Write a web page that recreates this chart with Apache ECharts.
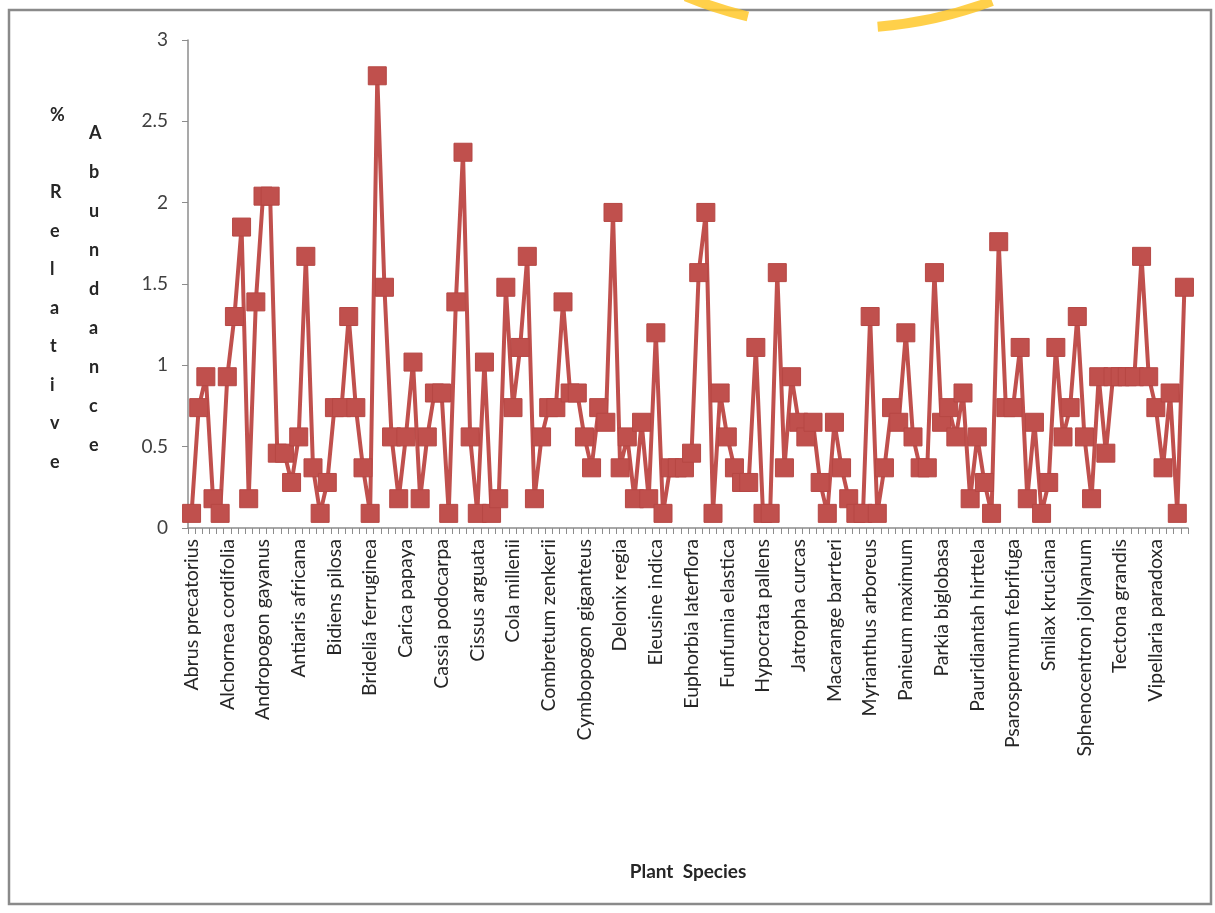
<!DOCTYPE html>
<html>
<head>
<meta charset="utf-8">
<title>Relative abundance of plant species</title>
<script src="https://cdn.jsdelivr.net/npm/echarts@6/dist/echarts.min.js"></script>
<style>
  html, body { margin: 0; padding: 0; background: #ffffff; }
  #chart { width: 1215px; height: 913px; }
</style>
</head>
<body>
<div id="chart"></div>
<script>
// Species named on the axis (every fifth sampled species carries a label)
const labelledSpecies = [
  'Abrus precatorius', 'Alchornea cordifolia', 'Andropogon gayanus', 'Antiaris africana',
  'Bidiens pilosa', 'Bridelia ferruginea', 'Carica papaya', 'Cassia podocarpa',
  'Cissus arguata', 'Cola millenii', 'Combretum zenkerii', 'Cymbopogon giganteus',
  'Delonix regia', 'Eleusine indica', 'Euphorbia laterflora', 'Funfumia elastica',
  'Hypocrata pallens', 'Jatropha curcas', 'Macarange barrteri', 'Myrianthus arboreus',
  'Panieum maximum', 'Parkia biglobasa', 'Pauridiantah hirttela', 'Psarospermum febrifuga',
  'Smilax kruciana', 'Sphenocentron jollyanum', 'Tectona grandis', 'Vipellaria paradoxa'
];

// % relative abundance, one value per species in alphabetical order
const relativeAbundance = [
  0.09, 0.74, 0.93, 0.18, 0.09, 0.93, 1.30, 1.85, 0.18, 1.39,
  2.04, 2.04, 0.46, 0.46, 0.28, 0.56, 1.67, 0.37, 0.09, 0.28,
  0.74, 0.74, 1.30, 0.74, 0.37, 0.09, 2.78, 1.48, 0.56, 0.18,
  0.56, 1.02, 0.18, 0.56, 0.83, 0.83, 0.09, 1.39, 2.31, 0.56,
  0.09, 1.02, 0.09, 0.18, 1.48, 0.74, 1.11, 1.67, 0.18, 0.56,
  0.74, 0.74, 1.39, 0.83, 0.83, 0.56, 0.37, 0.74, 0.65, 1.94,
  0.37, 0.56, 0.18, 0.65, 0.18, 1.20, 0.09, 0.37, 0.37, 0.37,
  0.46, 1.57, 1.94, 0.09, 0.83, 0.56, 0.37, 0.28, 0.28, 1.11,
  0.09, 0.09, 1.57, 0.37, 0.93, 0.65, 0.56, 0.65, 0.28, 0.09,
  0.65, 0.37, 0.18, 0.09, 0.09, 1.30, 0.09, 0.37, 0.74, 0.65,
  1.20, 0.56, 0.37, 0.37, 1.57, 0.65, 0.74, 0.56, 0.83, 0.18,
  0.56, 0.28, 0.09, 1.76, 0.74, 0.74, 1.11, 0.18, 0.65, 0.09,
  0.28, 1.11, 0.56, 0.74, 1.30, 0.56, 0.18, 0.93, 0.46, 0.93,
  0.93, 0.93, 0.93, 1.67, 0.93, 0.74, 0.37, 0.83, 0.09, 1.48
];

const yTicks = { min: 0, max: 3, step: 0.5 };
const labelEvery = 5;

const categoryIds = relativeAbundance.map((_, i) => String(i));

const lineRed = '#C0504D';
const axisGrey = '#8C8C8C';
const textDark = '#262626';
const fontFamily = 'Lato, "Open Sans", sans-serif';

const chart = echarts.init(document.getElementById('chart'), null, { renderer: 'canvas' });

chart.setOption({
  backgroundColor: '#ffffff',
  animation: false,
  grid: { left: 188, right: 27, top: 40, bottom: 385, containLabel: false },
  xAxis: {
    type: 'category',
    data: categoryIds,
    boundaryGap: true,
    name: 'Plant  Species',
    nameLocation: 'middle',
    nameGap: 334,
    nameTextStyle: { fontFamily, fontSize: 19, fontWeight: 'bold', color: textDark },
    axisLine: { show: true, lineStyle: { color: axisGrey, width: 1.5 } },
    axisTick: { show: true, interval: 0, length: 6, alignWithLabel: false, lineStyle: { color: axisGrey } },
    axisLabel: {
      interval: labelEvery - 1,
      rotate: 90,
      margin: 11,
      fontFamily,
      fontSize: 19.5,
      color: textDark,
      formatter: (value, index) => (index % labelEvery === 0 ? labelledSpecies[index / labelEvery] : '')
    },
    splitLine: { show: false }
  },
  yAxis: {
    type: 'value',
    min: yTicks.min,
    max: yTicks.max,
    interval: yTicks.step,
    axisLine: { show: true, lineStyle: { color: axisGrey, width: 1.5 } },
    axisTick: { show: true, length: 6, lineStyle: { color: axisGrey } },
    axisLabel: { margin: 20, fontFamily, fontSize: 19, color: '#404040' },
    splitLine: { show: false }
  },
  series: [{
    type: 'line',
    data: relativeAbundance,
    symbol: 'rect',
    symbolSize: 18,
    showSymbol: true,
    showAllSymbol: true,
    lineStyle: { color: lineRed, width: 4 },
    itemStyle: { color: lineRed, borderColor: '#B64744', borderWidth: 1 },
    emphasis: { disabled: true },
    z: 3
  }],
  graphic: [
    // chart frame
    {
      type: 'rect',
      shape: { x: 9, y: 10, width: 1202, height: 894 },
      style: { fill: 'none', stroke: '#8A8A8A', lineWidth: 2.5 },
      silent: true
    },
    // watermark strokes along the top edge
    {
      type: 'arc',
      shape: { cx: 845, cy: -388, r: 416, startAngle: Math.PI * 0.385, endAngle: Math.PI * 0.475 },
      style: { fill: 'none', stroke: '#FFC82A', lineWidth: 10, opacity: 0.85 },
      silent: true
    },
    {
      type: 'arc',
      shape: { cx: 845, cy: -388, r: 416, startAngle: Math.PI * 0.575, endAngle: Math.PI * 0.625 },
      style: { fill: 'none', stroke: '#FFC82A', lineWidth: 10, opacity: 0.85 },
      silent: true
    },
    // y-axis title, letters stacked vertically in two columns
    {
      type: 'text',
      left: 50, top: 96,
      style: {
        text: '%\n\nR\ne\nl\na\nt\ni\nv\ne',
        font: 'bold 18px ' + fontFamily,
        fill: textDark,
        align: 'center',
        lineHeight: 38.5
      },
      silent: true
    },
    {
      type: 'text',
      left: 89, top: 114,
      style: {
        text: 'A\nb\nu\nn\nd\na\nn\nc\ne',
        font: 'bold 18px ' + fontFamily,
        fill: textDark,
        align: 'center',
        lineHeight: 39
      },
      silent: true
    }
  ]
});
</script>
</body>
</html>
